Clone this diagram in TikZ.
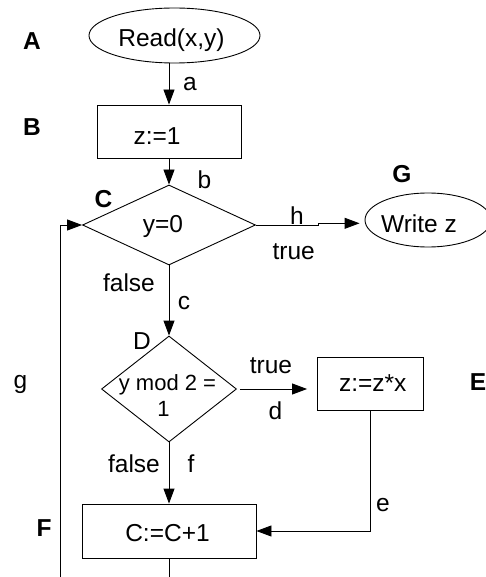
\documentclass[tikz,border=0pt]{standalone}
\usepackage{fontspec}
\setmainfont{Liberation Sans}
\usetikzlibrary{shapes.geometric,arrows.meta}
\begin{document}
\begin{tikzpicture}[x=1pt,y=-1pt,
  font=\fontsize{24.5}{28}\selectfont,
  flowline/.style={draw=black, line width=0.9pt},
  arr/.style={flowline, -{Triangle[length=15pt,width=11pt]}},
  box/.style={draw=black, line width=0.9pt, rectangle, inner sep=0pt},
  oval/.style={draw=black, line width=0.9pt, ellipse, inner sep=0pt},
  decision/.style={draw=black, line width=0.9pt, diamond, inner sep=0pt},
  txt/.style={anchor=base, inner sep=0pt},
  tag/.style={anchor=base, inner sep=0pt, font=\fontsize{24.5}{28}\selectfont\bfseries}]
\fill[white] (0,0) rectangle (486,577);
\useasboundingbox (0,0) rectangle (486,577);

% shapes
\node[oval, minimum width=171pt, minimum height=55pt] (A) at (174.5,35.5) {};
\node[box, minimum width=144pt, minimum height=53pt] (B) at (169,131.5) {};
\node[decision, minimum width=173pt, minimum height=80pt] (C) at (169,225) {};
\node[oval, minimum width=126pt, minimum height=54pt] (G) at (428,220) {};
\node[decision, minimum width=135pt, minimum height=106pt] (D) at (169,389) {};
\node[box, minimum width=106pt, minimum height=53pt] (E) at (370.5,383.5) {};
\node[box, minimum width=174pt, minimum height=54pt] (F) at (169,531) {};

% texts in shapes
\node[txt] (At) at (171.5,46.7) {Read(x,y)};
\node[txt] (Bt) at (157,145) {z:=1};
\node[txt] (Ct) at (163,232.3) {y=0};
\node[txt] (Gt) at (419,232.3) {Write z};
\node[txt, font=\fontsize{22}{25}\selectfont] (Dt1) at (167.5,390) {y mod 2 =};
\node[txt, font=\fontsize{22}{25}\selectfont] (Dt2) at (163.5,416.7) {1};
\node[txt] (Et) at (372.7,391.7) {z:=z*x};
\node[txt] (Ft) at (167.5,541.7) {C:=C+1};

% tags
\node[tag] (tA) at (32,49.3) {A};
\node[tag] (tB) at (32,136) {B};
\node[tag] (tC) at (103.5,207.3) {C};
\node[tag] (tG) at (402,182.7) {G};
\node[txt] (tD) at (142,349.3) {D};
\node[tag] (tE) at (478,390) {E};
\node[tag] (tF) at (44,536.7) {F};

% connector labels
\node[txt] (la) at (190,90.7) {a};
\node[txt] (lb) at (204.5,188.3) {b};
\node[txt] (lh) at (297,224) {h};
\node[txt] (ltrue1) at (293.7,259.3) {true};
\node[txt] (lfalse1) at (129,291) {false};
\node[txt] (lc) at (184,309) {c};
\node[txt] (lg) at (20.5,388.3) {g};
\node[txt] (ltrue2) at (271,373.3) {true};
\node[txt] (ld) at (275.5,419.3) {d};
\node[txt] (lfalse2) at (134,472.7) {false};
\node[txt] (lf) at (191,472.7) {f};
\node[txt] (le) at (383,511.7) {e};

% free ends
\coordinate (hj) at (318,225);
\coordinate (hk) at (318,223.3);
\coordinate (gb) at (60.7,577);
\coordinate (fb) at (169,577);

% connectors
\draw[arr] (A.south -| B.north) -- (B.north);
\draw[arr] (B.south) -- (C.north);
\draw[arr, shorten >=5pt] (C.east) -- (hj) -- (hk) -- (hk -| G.west);
\draw[arr] (C.south) -- (D.north);
\draw[arr, shorten <=3pt, shorten >=10pt] (D.east) -- (D.east -| E.west);
\draw[arr] (D.south) -- (F.north);
\draw[arr] (E.south) |- (F.east);
\draw[arr] (gb) |- (C.west);
\draw[flowline] (F.south) -- (fb);
\end{tikzpicture}
\end{document}
